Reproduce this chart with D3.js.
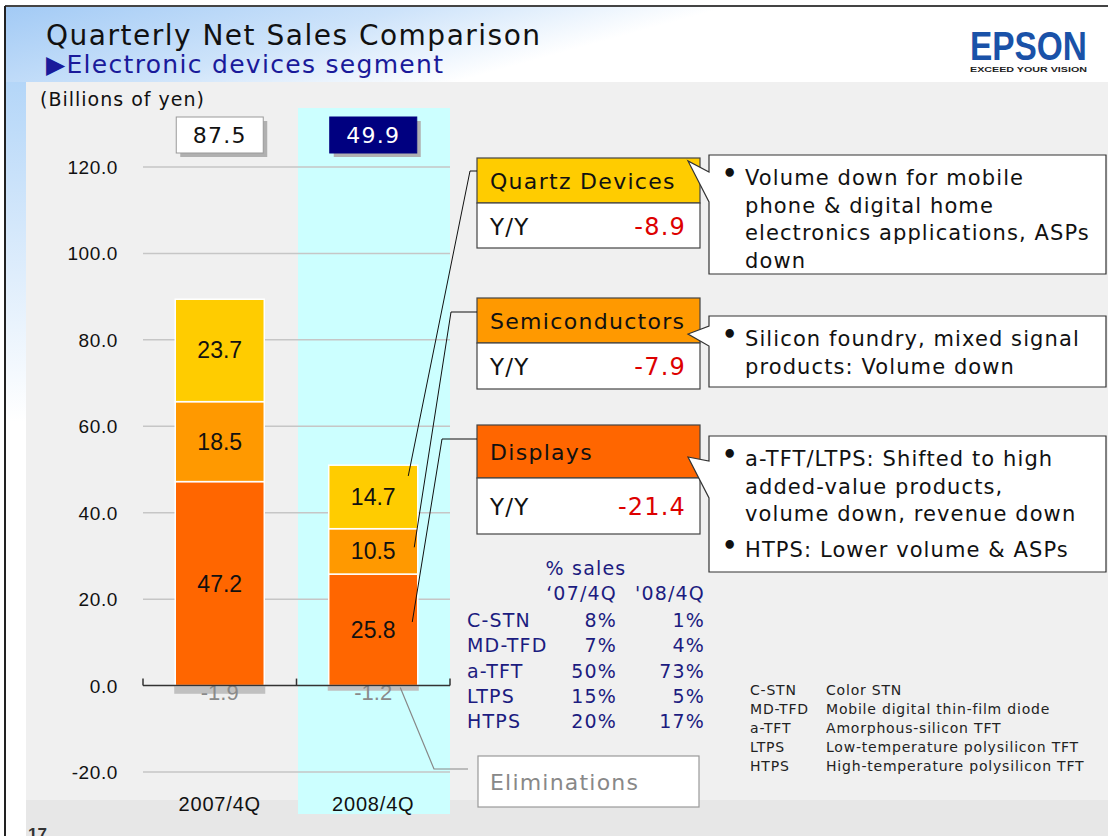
<!DOCTYPE html>
<html>
<head>
<meta charset="utf-8">
<script src="https://cdn.jsdelivr.net/npm/d3@7"></script>
<style>
  body { margin: 0; background: #fff; }
  svg { display: block; }
  .sans { font-family: "Liberation Sans", Arial, sans-serif; }
  .verd { font-family: "DejaVu Sans", Verdana, sans-serif; }
</style>
</head>
<body>
<svg id="chart" width="1108" height="836"></svg>
<script>
// Epson - quarterly net sales, electronic devices segment
var categories = ["2007/4Q", "2008/4Q"];
var segments = ["Displays", "Semiconductors", "Quartz Devices"];
var displays = [47.2, 25.8];
var semiconductors = [18.5, 10.5];
var quartz = [23.7, 14.7];
var eliminations = [-1.9, -1.2];
var totals = [87.5, 49.9];
var yTicks = [-20, 0, 20, 40, 60, 80, 100, 120];
var yoy = [-21.4, -7.9, -8.9];   // same order as segments

var pctLabels = ["C-STN", "MD-TFD", "a-TFT", "LTPS", "HTPS"];
var pct07 = [8, 7, 50, 15, 20];
var pct08 = [1, 4, 73, 5, 17];
var abbrDesc = ["Color STN", "Mobile digital thin-film diode", "Amorphous-silicon TFT",
    "Low-temperature polysilicon TFT", "High-temperature polysilicon TFT"];

var notesQuartz = [["Volume down for mobile", "phone & digital home", "electronics applications, ASPs", "down"]];
var notesSemi = [["Silicon foundry, mixed signal", "products: Volume down"]];
var notesDisp = [["a-TFT/LTPS: Shifted to high", "added-value products,", "volume down, revenue down"],
    ["HTPS: Lower volume & ASPs"]];

var colors = { "Displays": "#ff6600", "Semiconductors": "#ff9900", "Quartz Devices": "#ffcc00" };

// plain hyphen for negatives, like the slide
var fmt = d3.formatLocale({ decimal: ".", thousands: ",", grouping: [3], currency: ["", ""], minus: "-" }).format(".1f");

var svg = d3.select("#chart");
var defs = svg.append("defs");

// ---- slide background
var hdr = defs.append("linearGradient").attr("id", "hdr")
    .attr("x1", 0).attr("y1", 0).attr("x2", 1).attr("y2", 0.25);
hdr.append("stop").attr("offset", 0).attr("stop-color", "#a2caf5");
hdr.append("stop").attr("offset", 0.35).attr("stop-color", "#cde3fa");
hdr.append("stop").attr("offset", 0.62).attr("stop-color", "#ffffff");
var side = defs.append("linearGradient").attr("id", "side")
    .attr("x1", 0).attr("y1", 0).attr("x2", 0).attr("y2", 1);
side.append("stop").attr("offset", 0).attr("stop-color", "#b4d6f8");
side.append("stop").attr("offset", 0.45).attr("stop-color", "#ffffff");

svg.append("rect").attr("width", 1108).attr("height", 836).attr("fill", "#fff");
svg.append("rect").attr("x", 5).attr("y", 6).attr("width", 1103).attr("height", 76).attr("fill", "url(#hdr)");
svg.append("rect").attr("x", 5).attr("y", 82).attr("width", 21).attr("height", 754).attr("fill", "url(#side)");
svg.append("rect").attr("x", 26).attr("y", 82).attr("width", 1082).attr("height", 718).attr("fill", "#f0f0f0");
svg.append("rect").attr("x", 26).attr("y", 800).attr("width", 1082).attr("height", 36).attr("fill", "#e7e7e7");
svg.append("line").attr("x1", 5).attr("x2", 1108).attr("y1", 6).attr("y2", 6).attr("stroke", "#444").attr("stroke-width", 2);
svg.append("line").attr("x1", 5).attr("x2", 5).attr("y1", 6).attr("y2", 836).attr("stroke", "#222").attr("stroke-width", 2);

svg.append("text").attr("class", "verd").attr("x", 46).attr("y", 45)
    .attr("font-size", 28).attr("letter-spacing", 1.5).attr("fill", "#111").text("Quarterly Net Sales Comparison");
svg.append("text").attr("class", "verd").attr("x", 46).attr("y", 73)
    .attr("font-size", 25).attr("letter-spacing", 1.3).attr("fill", "#1a1a9a").text("\u25B6Electronic devices segment");
svg.append("text").attr("class", "sans").attr("x", 28).attr("y", 840)
    .attr("font-size", 17).attr("font-weight", "bold").attr("fill", "#333").text("17");

// logo
svg.append("text").attr("class", "sans").attr("x", 970).attr("y", 60)
    .attr("font-size", 40).attr("font-weight", "bold").attr("fill", "#1a52a8")
    .attr("textLength", 117).attr("lengthAdjust", "spacingAndGlyphs").text("EPSON");
svg.append("text").attr("class", "sans").attr("x", 970).attr("y", 72)
    .attr("font-size", 7.5).attr("font-weight", "bold").attr("fill", "#222")
    .attr("textLength", 117).attr("lengthAdjust", "spacingAndGlyphs").text("EXCEED YOUR VISION");

// ---- chart
var x = d3.scaleBand().domain(categories).range([143, 450]).padding(0);
var y = d3.scaleLinear().domain([-20, 120]).range([772, 167]);
var barW = x.bandwidth() * 0.58;

var rows = categories.map(function(c, i) {
    return { cat: c, "Displays": displays[i], "Semiconductors": semiconductors[i], "Quartz Devices": quartz[i] };
});
var stacked = d3.stack().keys(segments)(rows);

var g = svg.append("g");

// highlighted quarter
g.append("rect").attr("x", x(categories[1]) + 1.5).attr("y", 108)
    .attr("width", x.range()[1] - x(categories[1]) - 1.5).attr("height", 706).attr("fill", "#ccffff");

g.append("text").attr("class", "verd").attr("x", 40).attr("y", 106)
    .attr("font-size", 19).attr("letter-spacing", 1).attr("fill", "#111").text("(Billions of yen)");

g.selectAll(".grid").data(yTicks.filter(function(t) { return t !== 0; }))
    .enter().append("line")
    .attr("x1", x.range()[0]).attr("x2", x.range()[1])
    .attr("y1", function(d) { return y(d); }).attr("y2", function(d) { return y(d); })
    .attr("stroke", "#c6c6c6").attr("stroke-width", 1.5);

g.selectAll(".ytick").data(yTicks).enter().append("text")
    .attr("class", "sans").attr("x", 118).attr("y", function(d) { return y(d) + 7; })
    .attr("text-anchor", "end").attr("font-size", 19).attr("letter-spacing", 0.6).attr("fill", "#111")
    .text(function(d) { return fmt(d); });

// eliminations (below zero)
g.selectAll(".elim").data(eliminations).enter().append("rect")
    .attr("x", function(d, i) { return x(categories[i]) + (x.bandwidth() - barW) / 2 - 1; })
    .attr("y", y(0)).attr("width", barW + 2)
    .attr("height", function(d) { return y(d) - y(0); })
    .attr("fill", "#c0c0c0");

// stacked segments
stacked.forEach(function(layer) {
    g.selectAll(".seg-" + layer.index).data(layer).enter().append("rect")
        .attr("x", function(d) { return x(d.data.cat) + (x.bandwidth() - barW) / 2; })
        .attr("y", function(d) { return y(d[1]); })
        .attr("width", barW)
        .attr("height", function(d) { return y(d[0]) - y(d[1]); })
        .attr("fill", colors[layer.key])
        .attr("stroke", "#fff").attr("stroke-width", 1.5);
    g.selectAll(".lab-" + layer.index).data(layer).enter().append("text")
        .attr("class", "sans")
        .attr("x", function(d) { return x(d.data.cat) + x.bandwidth() / 2; })
        .attr("y", function(d) { return y((d[0] + d[1]) / 2) + 8; })
        .attr("text-anchor", "middle").attr("font-size", 23).attr("fill", "#111")
        .text(function(d) { return fmt(d[1] - d[0]); });
});

g.selectAll(".elimlab").data(eliminations).enter().append("text")
    .attr("class", "sans")
    .attr("x", function(d, i) { return x(categories[i]) + x.bandwidth() / 2; })
    .attr("y", y(0) + 14)
    .attr("text-anchor", "middle").attr("font-size", 22).attr("fill", "#8a8a8a")
    .text(function(d) { return fmt(d); });

// x axis line with ticks pointing up
var y0 = y(0);
g.append("line").attr("x1", x.range()[0]).attr("x2", x.range()[1])
    .attr("y1", y0).attr("y2", y0).attr("stroke", "#333").attr("stroke-width", 1.5);
var tickXs = categories.map(function(c) { return x(c); }).concat([x.range()[1]]);
g.selectAll(".xtick").data(tickXs).enter().append("line")
    .attr("x1", function(d) { return d; }).attr("x2", function(d) { return d; })
    .attr("y1", y0 - 7).attr("y2", y0).attr("stroke", "#333").attr("stroke-width", 1.5);

g.selectAll(".xlab").data(categories).enter().append("text")
    .attr("class", "sans")
    .attr("x", function(d) { return x(d) + x.bandwidth() / 2; })
    .attr("y", 811).attr("text-anchor", "middle").attr("font-size", 20)
    .attr("letter-spacing", 0.8).attr("fill", "#111").text(function(d) { return d; });

// totals above bars
var tw = 87, th = 36;
categories.forEach(function(c, i) {
    var cx = x(c) + x.bandwidth() / 2;
    var dark = i === 1;
    g.append("rect").attr("x", cx - tw / 2 + 4).attr("y", 121).attr("width", tw).attr("height", th).attr("fill", "#b0b0b0");
    g.append("rect").attr("x", cx - tw / 2).attr("y", 117).attr("width", tw).attr("height", th)
        .attr("fill", dark ? "#000080" : "#fff").attr("stroke", dark ? "#000080" : "#999");
    g.append("text").attr("class", "verd").attr("x", cx).attr("y", 143)
        .attr("text-anchor", "middle").attr("font-size", 22).attr("letter-spacing", 1.3)
        .attr("fill", dark ? "#fff" : "#111").text(fmt(totals[i]));
});

// ---- segment boxes on the right
var boxes = [
    { key: "Quartz Devices", top: 158, hh: 45, wh: 45, notes: notesQuartz, cTop: 155, cBot: 274, tip: [688, 161], base: [172, 202] },
    { key: "Semiconductors", top: 298, hh: 45, wh: 46, notes: notesSemi, cTop: 316, cBot: 387, tip: [688, 334], base: [326, 346] },
    { key: "Displays", top: 425, hh: 53, wh: 56, notes: notesDisp, cTop: 436, cBot: 572, tip: [688, 457], base: [461, 498] }
];
var bx = 477, bw = 223, cx0 = 709, cx1 = 1106;

boxes.forEach(function(b) {
    var si = segments.indexOf(b.key);
    g.append("rect").attr("x", bx).attr("y", b.top).attr("width", bw).attr("height", b.hh)
        .attr("fill", colors[b.key]).attr("stroke", "#444").attr("stroke-width", 1.2);
    g.append("rect").attr("x", bx).attr("y", b.top + b.hh).attr("width", bw).attr("height", b.wh)
        .attr("fill", "#fff").attr("stroke", "#444").attr("stroke-width", 1.2);
    g.append("text").attr("class", "verd").attr("x", bx + 13).attr("y", b.top + b.hh / 2 + 8)
        .attr("font-size", 22).attr("letter-spacing", 1.3).attr("fill", "#111").text(b.key);
    g.append("text").attr("class", "verd").attr("x", bx + 13).attr("y", b.top + b.hh + b.wh / 2 + 9)
        .attr("font-size", 23).attr("letter-spacing", 1.2).attr("fill", "#111").text("Y/Y");
    g.append("text").attr("class", "verd").attr("x", bx + bw - 14).attr("y", b.top + b.hh + b.wh / 2 + 9)
        .attr("text-anchor", "end").attr("font-size", 24).attr("letter-spacing", 1.2)
        .attr("fill", "#dd0000").text(fmt(yoy[si]));

    // callout with pointer
    var p = d3.path();
    p.moveTo(cx0, b.cTop);
    p.lineTo(cx1, b.cTop);
    p.lineTo(cx1, b.cBot);
    p.lineTo(cx0, b.cBot);
    p.lineTo(cx0, b.base[1]);
    p.lineTo(b.tip[0], b.tip[1]);
    p.lineTo(cx0, b.base[0]);
    p.closePath();
    g.append("path").attr("d", p.toString()).attr("fill", "#fff").attr("stroke", "#333").attr("stroke-width", 1.2);

    var ly = b.cTop + 30;
    b.notes.forEach(function(bullet, bi) {
        if (bi > 0) ly += 8;
        g.append("text").attr("class", "verd").attr("x", 722).attr("y", ly - 3)
            .attr("font-size", 24).attr("font-weight", "bold").attr("fill", "#111").text("\u2022");
        bullet.forEach(function(line) {
            g.append("text").attr("class", "verd").attr("x", 745).attr("y", ly)
                .attr("font-size", 21).attr("letter-spacing", 1.1).attr("fill", "#111").text(line);
            ly += 27.5;
        });
    });
});

// leader lines from the 2008/4Q segments to the boxes
var leaderFrac = [0.57, 0.59, 0.83];
var leaderDx = [39, 41, 35];
var leaderTop = [[442, 439], [451, 312], [470, 171]];
stacked.forEach(function(layer, k) {
    var d = layer[1];
    var pts = [
        [x(categories[1]) + x.bandwidth() / 2 + leaderDx[k], y(d[0] + (d[1] - d[0]) * leaderFrac[k])],
        leaderTop[k],
        [bx, leaderTop[k][1]]
    ];
    g.append("path").attr("d", d3.line()(pts)).attr("fill", "none").attr("stroke", "#111").attr("stroke-width", 1);
});

// eliminations leader + box
var ePts = [[x(categories[1]) + x.bandwidth() / 2 + 27, y(0) + 2], [434, 769], [468, 769]];
g.append("path").attr("d", d3.line()(ePts)).attr("fill", "none").attr("stroke", "#888").attr("stroke-width", 1.2);
g.append("rect").attr("x", 478).attr("y", 756).attr("width", 221).attr("height", 51)
    .attr("fill", "#fff").attr("stroke", "#999").attr("stroke-width", 1.2);
g.append("text").attr("class", "verd").attr("x", 490).attr("y", 790)
    .attr("font-size", 22).attr("letter-spacing", 1.2).attr("fill", "#888").text("Eliminations");

// ---- % sales table
var navy = "#1c1c80";
g.append("text").attr("class", "verd").attr("x", 586).attr("y", 575).attr("text-anchor", "middle")
    .attr("font-size", 19).attr("letter-spacing", 1.2).attr("fill", navy).text("% sales");
g.append("text").attr("class", "verd").attr("x", 617).attr("y", 600).attr("text-anchor", "end")
    .attr("font-size", 19).attr("letter-spacing", 1.2).attr("fill", navy).text("\u201807/4Q");
g.append("text").attr("class", "verd").attr("x", 705).attr("y", 600).attr("text-anchor", "end")
    .attr("font-size", 19).attr("letter-spacing", 1.2).attr("fill", navy).text("'08/4Q");
pctLabels.forEach(function(lab, i) {
    var yy = 627 + i * 25.3;
    g.append("text").attr("class", "verd").attr("x", 467).attr("y", yy)
        .attr("font-size", 19).attr("letter-spacing", 1.2).attr("fill", navy).text(lab);
    g.append("text").attr("class", "verd").attr("x", 617).attr("y", yy).attr("text-anchor", "end")
        .attr("font-size", 19).attr("letter-spacing", 1.2).attr("fill", navy).text(pct07[i] + "%");
    g.append("text").attr("class", "verd").attr("x", 705).attr("y", yy).attr("text-anchor", "end")
        .attr("font-size", 19).attr("letter-spacing", 1.2).attr("fill", navy).text(pct08[i] + "%");
});

// abbreviations
pctLabels.forEach(function(lab, i) {
    var yy = 695 + i * 19;
    g.append("text").attr("class", "verd").attr("x", 750).attr("y", yy)
        .attr("font-size", 14).attr("letter-spacing", 0.8).attr("fill", "#222").text(lab);
    g.append("text").attr("class", "verd").attr("x", 826).attr("y", yy)
        .attr("font-size", 14).attr("letter-spacing", 0.8).attr("fill", "#222").text(abbrDesc[i]);
});
</script>
</body>
</html>
